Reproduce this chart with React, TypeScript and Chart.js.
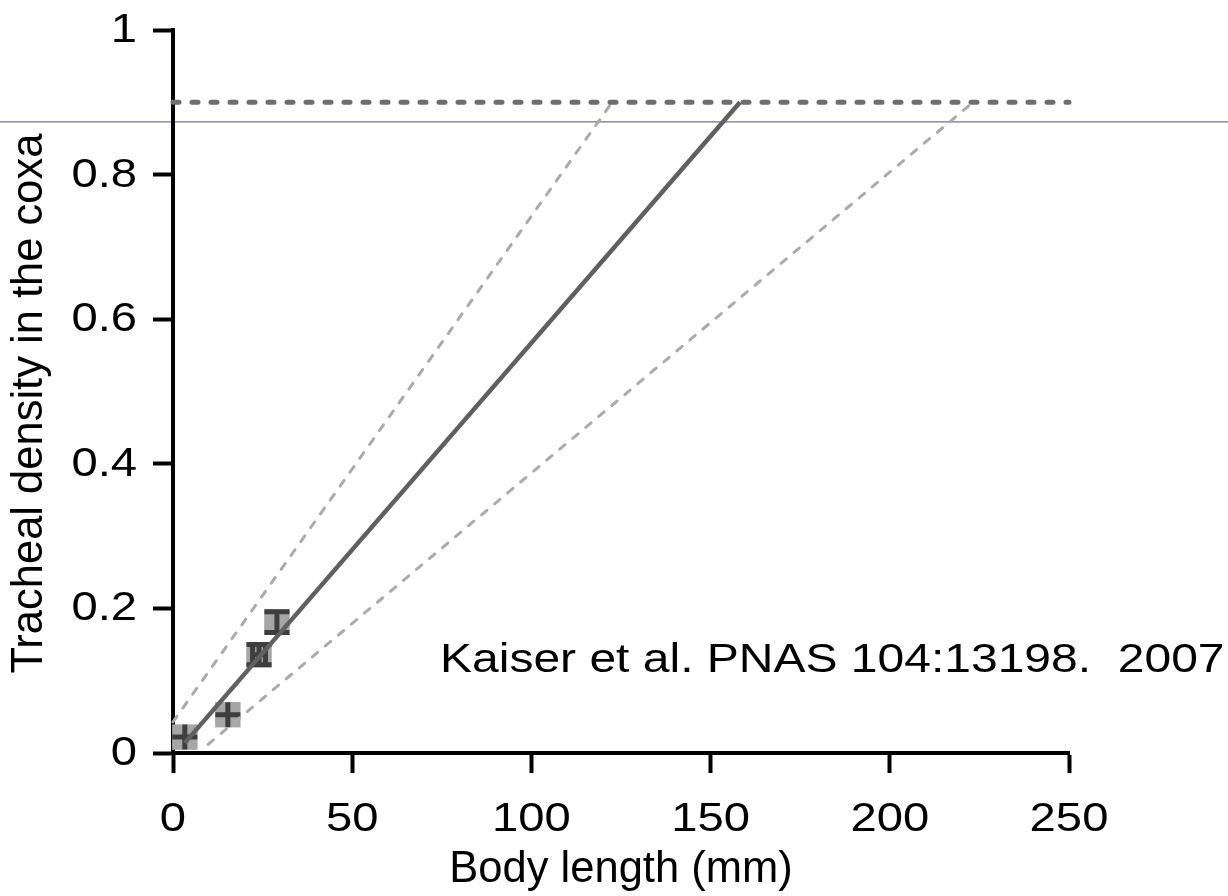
import React, { useEffect, useRef } from "react";
import { Chart, registerables } from "chart.js";

Chart.register(...registerables);

// ---- data ----
const pointX = [3.3, 15.3, 24.0, 29.0];
const pointY = [0.022, 0.053, 0.136, 0.181];
const errX = [0, 0, 1.8, 0];
const errY = [0, 0, 0.014, 0.0145];

const fitX = [3.3, 158.2];
const fitY = [0.014, 0.9];
const upperX = [0, 122.5];
const upperY = [0.043, 0.9];
const lowerX = [9.8, 223.2];
const lowerY = [0.012, 0.9];
const thresholdX = [0, 250];
const thresholdY = [0.9, 0.9];
const refLineY = [0.873];

const xTicks = [0, 50, 100, 150, 200, 250];
const xTickLabels = ["0", "50", "100", "150", "200", "250"];
const yTicks = [0, 0.2, 0.4, 0.6, 0.8, 1];
const yTickLabels = ["0", "0.2", "0.4", "0.6", "0.8", "1"];

const xTitle = "Body length (mm)";
const yTitle = "Tracheal density in the coxa";
const noteText = "Kaiser et al. PNAS 104:13198.  2007";
const noteX = [74.5];
const noteY = [0.112];

const FONT = "'Liberation Sans', Arial, sans-serif";

const toPts = (xs: number[], ys: number[]) => xs.map((x, i) => ({ x, y: ys[i] }));

const customPlugin = {
  id: "custom",
  beforeDraw(chart: any) {
    const { ctx } = chart;
    const y = chart.scales.y.getPixelForValue(refLineY[0]);
    ctx.save();
    ctx.strokeStyle = "#6b7396";
    ctx.lineWidth = 1.2;
    ctx.beginPath();
    ctx.moveTo(0, y);
    ctx.lineTo(chart.width, y);
    ctx.stroke();
    ctx.restore();
  },
  afterDatasetDraw(chart: any, args: any) {
    if (args.index !== 0) return;
    const { ctx } = chart;
    const xs = chart.scales.x;
    const ys = chart.scales.y;
    const cap = 12.5;
    ctx.save();
    ctx.strokeStyle = "#3e3e3e";
    ctx.lineWidth = 5;
    ctx.lineCap = "butt";
    pointX.forEach((px, i) => {
      const cx = xs.getPixelForValue(px);
      const cy = ys.getPixelForValue(pointY[i]);
      const xl = xs.getPixelForValue(px - errX[i]);
      const xr = xs.getPixelForValue(px + errX[i]);
      const yt = ys.getPixelForValue(pointY[i] + errY[i]);
      const yb = ys.getPixelForValue(pointY[i] - errY[i]);
      ctx.beginPath();
      ctx.moveTo(xl, cy);
      ctx.lineTo(xr, cy);
      ctx.moveTo(cx, yt);
      ctx.lineTo(cx, yb);
      ctx.moveTo(xl, cy - cap);
      ctx.lineTo(xl, cy + cap);
      ctx.moveTo(xr, cy - cap);
      ctx.lineTo(xr, cy + cap);
      ctx.moveTo(cx - cap, yt);
      ctx.lineTo(cx + cap, yt);
      ctx.moveTo(cx - cap, yb);
      ctx.lineTo(cx + cap, yb);
      ctx.stroke();
    });
    ctx.restore();
  },
  afterDraw(chart: any) {
    const { ctx } = chart;
    const xs = chart.scales.x;
    const ys = chart.scales.y;
    const area = chart.chartArea;
    const sx = 1.18;
    ctx.save();
    ctx.fillStyle = "#000";
    ctx.font = `40px ${FONT}`;
    ctx.textBaseline = "alphabetic";
    ctx.textAlign = "right";
    yTicks.forEach((v, i) => {
      const py = ys.getPixelForValue(v);
      ctx.save();
      ctx.translate(area.left - 36, py + 12);
      ctx.scale(sx, 1);
      ctx.fillText(yTickLabels[i], 0, 0);
      ctx.restore();
    });
    ctx.textAlign = "center";
    xTicks.forEach((v, i) => {
      const px = xs.getPixelForValue(v);
      ctx.save();
      ctx.translate(px, area.bottom + 78);
      ctx.scale(sx, 1);
      ctx.fillText(xTickLabels[i], 0, 0);
      ctx.restore();
    });
    ctx.textAlign = "left";
    ctx.save();
    ctx.translate(xs.getPixelForValue(noteX[0]), ys.getPixelForValue(noteY[0]));
    ctx.scale(1.2, 1);
    ctx.fillText(noteText, 0, 0);
    ctx.restore();
    ctx.restore();
  },
};

export default function App() {
  const ref = useRef<HTMLCanvasElement | null>(null);

  useEffect(() => {
    document.body.style.margin = "0";
    const canvas = ref.current;
    if (!canvas) return;
    const chart = new Chart(canvas, {
      type: "scatter",
      data: {
        datasets: [
          {
            label: "Species",
            data: toPts(pointX, pointY),
            pointStyle: "rect",
            pointRadius: 18,
            pointHoverRadius: 18,
            backgroundColor: "#a6a6a6",
            borderWidth: 0,
            showLine: false,
            order: 5,
            clip: false,
          } as any,
          {
            label: "Fit",
            data: toPts(fitX, fitY),
            showLine: true,
            borderColor: "#606060",
            borderWidth: 4.5,
            pointRadius: 0,
            order: 2,
            clip: false,
          } as any,
          {
            label: "Upper",
            data: toPts(upperX, upperY),
            showLine: true,
            borderColor: "#ababab",
            borderWidth: 3,
            borderDash: [7, 10],
            borderCapStyle: "round",
            pointRadius: 0,
            order: 3,
            clip: false,
          } as any,
          {
            label: "Lower",
            data: toPts(lowerX, lowerY),
            showLine: true,
            borderColor: "#ababab",
            borderWidth: 3,
            borderDash: [7, 10],
            borderCapStyle: "round",
            pointRadius: 0,
            order: 3,
            clip: false,
          } as any,
          {
            label: "Threshold",
            data: toPts(thresholdX, thresholdY),
            showLine: true,
            borderColor: "#6e6e6e",
            borderWidth: 5,
            borderDash: [6, 13],
            borderCapStyle: "round",
            pointRadius: 0,
            order: 1,
            clip: false,
          } as any,
        ],
      },
      options: {
        responsive: false,
        animation: false,
        events: [],
        layout: { padding: { top: 30, right: 159, left: 0, bottom: 0 } },
        plugins: {
          legend: { display: false },
          tooltip: { enabled: false },
        },
        scales: {
          x: {
            type: "linear",
            min: 0,
            max: 250,
            afterBuildTicks: (s: any) => {
              s.ticks = xTicks.map((v) => ({ value: v }));
            },
            afterFit: (s: any) => {
              s.height = 143;
            },
            ticks: { display: false },
            grid: {
              display: true,
              drawOnChartArea: false,
              drawTicks: true,
              tickLength: 20,
              tickWidth: 4,
              tickColor: "#000",
            },
            border: { display: true, color: "#000", width: 4 },
            title: {
              display: true,
              text: xTitle,
              color: "#000",
              font: { family: FONT, size: 43.5 },
              padding: { top: 0, bottom: 0 },
            },
          },
          y: {
            type: "linear",
            min: 0,
            max: 1,
            afterBuildTicks: (s: any) => {
              s.ticks = yTicks.map((v) => ({ value: v }));
            },
            afterFit: (s: any) => {
              s.width = 173;
            },
            ticks: { display: false },
            grid: {
              display: true,
              drawOnChartArea: false,
              drawTicks: true,
              tickLength: 20,
              tickWidth: 4,
              tickColor: "#000",
            },
            border: { display: true, color: "#000", width: 4 },
            title: {
              display: true,
              text: yTitle + "  ",
              color: "#000",
              font: { family: FONT, size: 43.5 },
              padding: { top: 4, bottom: 0 },
            },
          },
        },
      } as any,
      plugins: [customPlugin],
    });
    return () => chart.destroy();
  }, []);

  return (
    <div style={{ width: 1228, height: 896, background: "#fff" }}>
      <canvas ref={ref} width={1228} height={896} style={{ display: "block" }} />
    </div>
  );
}
